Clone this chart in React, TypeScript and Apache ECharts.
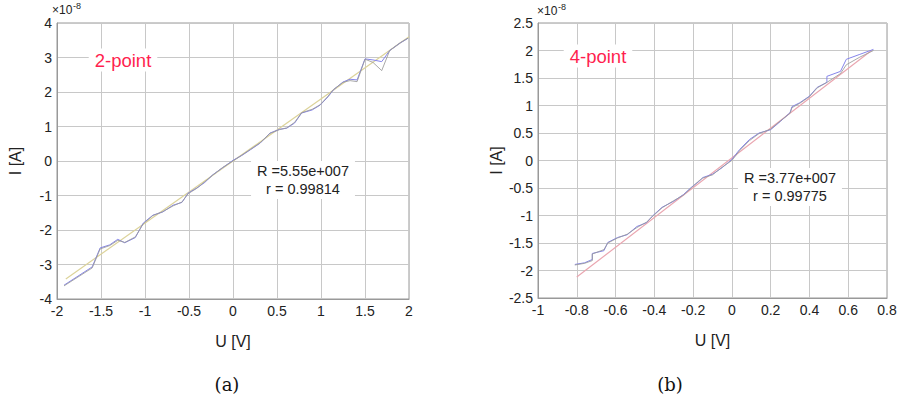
import React, { useEffect, useRef } from "react";
import * as echarts from "echarts";

// Current values are in units of 1e-8 A
const leftForward: [number, number][] = [
  [-1.92, -3.6], [-1.6, -3.07], [-1.51, -2.52], [-1.4, -2.43], [-1.31, -2.27], [-1.23, -2.37],
  [-1.11, -2.22], [-1.02, -1.8], [-0.91, -1.57], [-0.8, -1.48], [-0.68, -1.28], [-0.58, -1.2],
  [-0.51, -0.93], [-0.41, -0.78], [-0.32, -0.62], [-0.23, -0.4], [-0.12, -0.2], [0, 0.02],
  [0.1, 0.16], [0.2, 0.33], [0.31, 0.52], [0.42, 0.81], [0.53, 0.92], [0.61, 0.95], [0.7, 1.1],
  [0.78, 1.39], [0.9, 1.48], [0.99, 1.62], [1.08, 1.86], [1.14, 2.06], [1.25, 2.29], [1.33, 2.37],
  [1.41, 2.35], [1.5, 2.96], [1.59, 2.93], [1.69, 2.88], [1.78, 3.2], [1.9, 3.42], [1.99, 3.56],
];
const leftBackward: [number, number][] = [
  [-1.92, -3.62], [-1.6, -3.1], [-1.51, -2.55], [-1.4, -2.45], [-1.31, -2.3], [-1.23, -2.36],
  [-1.11, -2.2], [-1.02, -1.82], [-0.91, -1.58], [-0.8, -1.47], [-0.68, -1.3], [-0.58, -1.19],
  [-0.51, -0.95], [-0.41, -0.79], [-0.32, -0.6], [-0.23, -0.41], [-0.12, -0.19], [0, 0.0],
  [0.1, 0.17], [0.2, 0.34], [0.31, 0.53], [0.42, 0.8], [0.53, 0.91], [0.61, 0.96], [0.7, 1.12],
  [0.78, 1.4], [0.9, 1.5], [0.99, 1.63], [1.08, 1.88], [1.14, 2.07], [1.25, 2.28], [1.33, 2.33],
  [1.41, 2.3], [1.5, 2.95], [1.59, 2.86], [1.69, 2.62], [1.78, 3.2], [1.9, 3.43], [1.99, 3.56],
];
const leftFit: [number, number][] = [[-1.9, -3.42], [2.0, 3.6]];

const rightForward: [number, number][] = [
  [-0.81, -1.89], [-0.76, -1.86], [-0.72, -1.8], [-0.72, -1.69], [-0.66, -1.64], [-0.64, -1.49],
  [-0.59, -1.4], [-0.54, -1.35], [-0.49, -1.2], [-0.44, -1.13], [-0.41, -1.01], [-0.36, -0.85],
  [-0.3, -0.74], [-0.25, -0.62], [-0.21, -0.49], [-0.17, -0.38], [-0.15, -0.31], [-0.1, -0.25],
  [-0.05, -0.13], [0.0, 0.02], [0.04, 0.2], [0.09, 0.38], [0.14, 0.5], [0.2, 0.56], [0.25, 0.71],
  [0.3, 0.87], [0.31, 0.98], [0.35, 1.05], [0.4, 1.17], [0.44, 1.33], [0.49, 1.42], [0.49, 1.53],
  [0.56, 1.62], [0.59, 1.84], [0.66, 1.93], [0.73, 2.02],
];
const rightBackward: [number, number][] = [
  [-0.81, -1.9], [-0.76, -1.87], [-0.72, -1.82], [-0.72, -1.7], [-0.66, -1.62], [-0.64, -1.5],
  [-0.59, -1.41], [-0.54, -1.34], [-0.49, -1.22], [-0.44, -1.12], [-0.41, -1.02], [-0.36, -0.86],
  [-0.3, -0.73], [-0.25, -0.63], [-0.21, -0.5], [-0.17, -0.37], [-0.15, -0.32], [-0.1, -0.26],
  [-0.05, -0.12], [0.0, 0.0], [0.04, 0.18], [0.09, 0.36], [0.14, 0.49], [0.2, 0.57], [0.25, 0.72],
  [0.3, 0.86], [0.31, 0.96], [0.35, 1.04], [0.4, 1.16], [0.44, 1.32], [0.49, 1.42], [0.56, 1.58],
  [0.59, 1.74], [0.66, 1.88], [0.73, 2.0],
];
const rightFit: [number, number][] = [[-0.8, -2.12], [0.72, 2.0]];

const leftXTicks = { min: -2, max: 2, interval: 0.5 };
const leftYTicks = { min: -4, max: 4, interval: 1 };
const rightXTicks = { min: -1, max: 0.8, interval: 0.2 };
const rightYTicks = { min: -2.5, max: 2.5, interval: 0.5 };

const FONT = "Liberation Sans, Arial, sans-serif";
const GRID_LINE = "#c8c8c8";
const TEXT = "#222";

function fmt(v: number) {
  const r = Math.round(v * 1000) / 1000;
  return r === 0 ? "0" : String(r);
}

function xAxis(gridIndex: number, t: { min: number; max: number; interval: number }, name: string) {
  return {
    type: "value",
    gridIndex,
    ...t,
    name,
    nameLocation: "middle",
    nameGap: 34,
    nameTextStyle: { fontFamily: FONT, fontSize: 16, color: TEXT },
    axisLine: { show: true, onZero: false, lineStyle: { color: "#999" } },
    axisTick: { show: false },
    splitLine: { show: true, lineStyle: { color: GRID_LINE, width: 1 } },
    axisLabel: { fontFamily: FONT, fontSize: 14, color: TEXT, margin: 5, formatter: fmt, showMinLabel: true, showMaxLabel: true },
  };
}

function yAxis(gridIndex: number, t: { min: number; max: number; interval: number }, name: string) {
  return {
    type: "value",
    gridIndex,
    ...t,
    name,
    nameLocation: "middle",
    nameGap: 34,
    nameRotate: 90,
    nameTextStyle: { fontFamily: FONT, fontSize: 16, color: TEXT },
    axisLine: { show: true, onZero: false, lineStyle: { color: "#999" } },
    axisTick: { show: false },
    splitLine: { show: true, lineStyle: { color: GRID_LINE, width: 1 } },
    axisLabel: { fontFamily: FONT, fontSize: 14, color: TEXT, margin: 5, formatter: fmt, showMinLabel: true, showMaxLabel: true },
  };
}

function line(data: [number, number][], idx: number, color: string, width = 1, opacity = 1) {
  return {
    type: "line",
    xAxisIndex: idx,
    yAxisIndex: idx,
    data,
    symbol: "none",
    silent: true,
    lineStyle: { color, width, opacity },
  };
}

function boxedText(x: number, y: number, lines: string[]) {
  return {
    type: "text",
    x,
    y,
    style: {
      text: lines.join("\n"),
      fontFamily: FONT,
      fontSize: 14.5,
      lineHeight: 18,
      fill: TEXT,
      align: "center",
      backgroundColor: "#fff",
      padding: [1, 6],
    },
    z: 10,
  };
}

export default function App() {
  const ref = useRef<HTMLDivElement>(null);

  useEffect(() => {
    if (!ref.current) return;
    const chart = echarts.init(ref.current, undefined, { renderer: "svg" });
    chart.setOption({
      animation: false,
      backgroundColor: "#fff",
      grid: [
        { left: 57, top: 23, width: 352, height: 276, show: true, borderColor: "#999", borderWidth: 1 },
        { left: 538, top: 23, width: 349, height: 275, show: true, borderColor: "#999", borderWidth: 1 },
      ],
      xAxis: [xAxis(0, leftXTicks, "U [V]"), xAxis(1, rightXTicks, "U [V]")],
      yAxis: [yAxis(0, leftYTicks, "I [A]"), yAxis(1, rightYTicks, "I [A]")],
      series: [
        line(leftFit, 0, "#dcd39a", 1.2),
        line(leftForward, 0, "#8585ea", 1),
        line(leftBackward, 0, "#9a9a9a", 1, 0.85),
        line(rightFit, 1, "#eaa6b0", 1.2),
        line(rightForward, 1, "#8585ea", 1),
        line(rightBackward, 1, "#9a9a9a", 1, 0.85),
      ],
      graphic: [
        { type: "text", x: 52, y: 4, style: { text: "×10", fontFamily: FONT, fontSize: 12, fill: TEXT } },
        { type: "text", x: 73, y: 1, style: { text: "-8", fontFamily: FONT, fontSize: 9, fill: TEXT } },
        { type: "text", x: 537, y: 5, style: { text: "×10", fontFamily: FONT, fontSize: 12, fill: TEXT } },
        { type: "text", x: 558, y: 2, style: { text: "-8", fontFamily: FONT, fontSize: 9, fill: TEXT } },
        {
          type: "text", x: 123, y: 60,
          style: { text: "2-point", fontFamily: FONT, fontSize: 18.5, fill: "#ff1f4f", align: "center", verticalAlign: "middle", backgroundColor: "#fff", padding: [2, 6] },
          z: 10,
        },
        {
          type: "text", x: 598, y: 56,
          style: { text: "4-point", fontFamily: FONT, fontSize: 18.5, fill: "#ff1f4f", align: "center", verticalAlign: "middle", backgroundColor: "#fff", padding: [2, 6] },
          z: 10,
        },
        boxedText(303, 161, ["R =5.55e+007", "r = 0.99814"]),
        boxedText(790, 168, ["R =3.77e+007", "r = 0.99775"]),
        { type: "text", x: 227, y: 384, style: { text: "(a)", fontFamily: "DejaVu Serif, Liberation Serif, serif", fontSize: 18, fill: "#111", align: "center", verticalAlign: "middle" } },
        { type: "text", x: 670, y: 384, style: { text: "(b)", fontFamily: "DejaVu Serif, Liberation Serif, serif", fontSize: 18, fill: "#111", align: "center", verticalAlign: "middle" } },
      ],
    });
    return () => chart.dispose();
  }, []);

  return <div ref={ref} style={{ position: "fixed", left: 0, top: 0, width: 901, height: 405 }} />;
}
